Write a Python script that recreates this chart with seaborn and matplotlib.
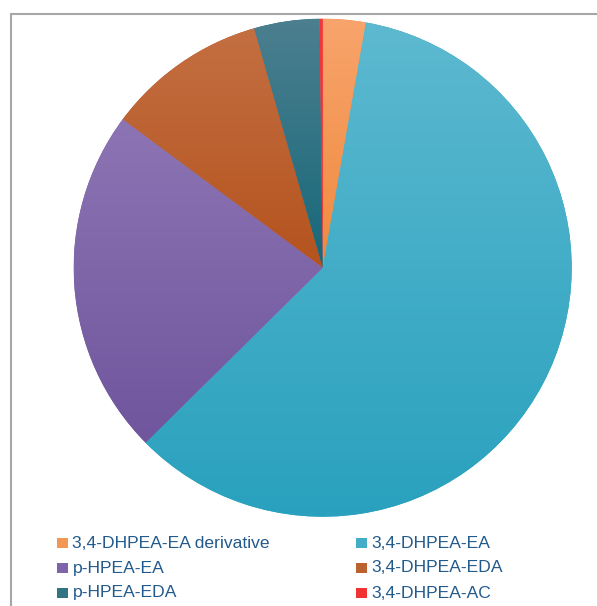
import numpy as np
import matplotlib
matplotlib.use("Agg")
import matplotlib.pyplot as plt
import seaborn as sns
from matplotlib.colors import to_rgb
from matplotlib.patches import Rectangle
from matplotlib.lines import Line2D

sns.set_theme(style="white")
plt.rcParams['font.family'] = ['Liberation Sans', 'DejaVu Sans']

labels = ["3,4-DHPEA-EA derivative", "3,4-DHPEA-EA", "p-HPEA-EA",
          "3,4-DHPEA-EDA", "p-HPEA-EDA", "3,4-DHPEA-AC"]
values = [2.78, 59.8, 22.57, 10.39, 4.24, 0.2]
top_colors = ["#f8a46c", "#5db9d0", "#8d74b4", "#c46f42", "#4c7f8f", "#f23a3a"]
bot_colors = ["#ef8a3e", "#29a1be", "#6f569d", "#b4531e", "#16687a", "#ee2a2a"]

W, H = 597, 606
fig = plt.figure(figsize=(W / 100, H / 100), dpi=100)
fig.patch.set_facecolor("white")

cx, cy, r = 322.7, 267.7, 249.0
ax = fig.add_axes([(cx - r) / W, (H - (cy + r)) / H, 2 * r / W, 2 * r / H])
ax.set_xlim(-1, 1)
ax.set_ylim(-1, 1)
ax.axis("off")

wedges, _ = ax.pie(values, startangle=90, counterclock=False, radius=1,
                   colors=bot_colors, wedgeprops=dict(linewidth=0))
ax.set_xlim(-1, 1)
ax.set_ylim(-1, 1)
ax.set_aspect("auto")

for w, tc, bc in zip(wedges, top_colors, bot_colors):
    ext = w.get_path().get_extents()
    t = np.linspace(0, 1, 256)[:, None]
    c1 = np.array(to_rgb(tc))
    c2 = np.array(to_rgb(bc))
    grad = (1 - t)[:, :, None] * c1[None, None, :] + t[:, :, None] * c2[None, None, :]
    grad = np.repeat(grad, 2, axis=1)
    y0, y1 = ext.y0, ext.y1
    x0, x1 = ext.x0, ext.x1
    im = ax.imshow(grad, extent=[x0, x1, y0, y1], origin="upper",
                   aspect="auto", interpolation="bilinear", zorder=2)
    im.set_clip_path(w)
ax.set_xlim(-1, 1)
ax.set_ylim(-1, 1)

# chart frame (cropped box)
fig.add_artist(Line2D([11 / W, 11 / W], [1 - 14 / H, 0], transform=fig.transFigure,
                      color="#a6a6a6", linewidth=1.5))
fig.add_artist(Line2D([11 / W, 1], [1 - 14 / H, 1 - 14 / H], transform=fig.transFigure,
                      color="#a6a6a6", linewidth=1.5))

# legend
col_x = [57, 356]
row_y = [543, 568, 593]
for i, (lab, tc, bc) in enumerate(zip(labels, top_colors, bot_colors)):
    col = i % 2
    row = i // 2
    x = col_x[col]
    y = row_y[row]
    mid = tuple((np.array(to_rgb(tc)) + np.array(to_rgb(bc))) / 2)
    fig.add_artist(Rectangle((x / W, 1 - (y + 5) / H), 10.5 / W, 10.5 / H,
                             transform=fig.transFigure, facecolor=mid, edgecolor="none"))
    fig.text((x + 15.5) / W, 1 - y / H, lab, fontsize=12.6, color="#225a8c",
             va="center", ha="left")

fig.savefig("out.png", dpi=100, facecolor="white")
